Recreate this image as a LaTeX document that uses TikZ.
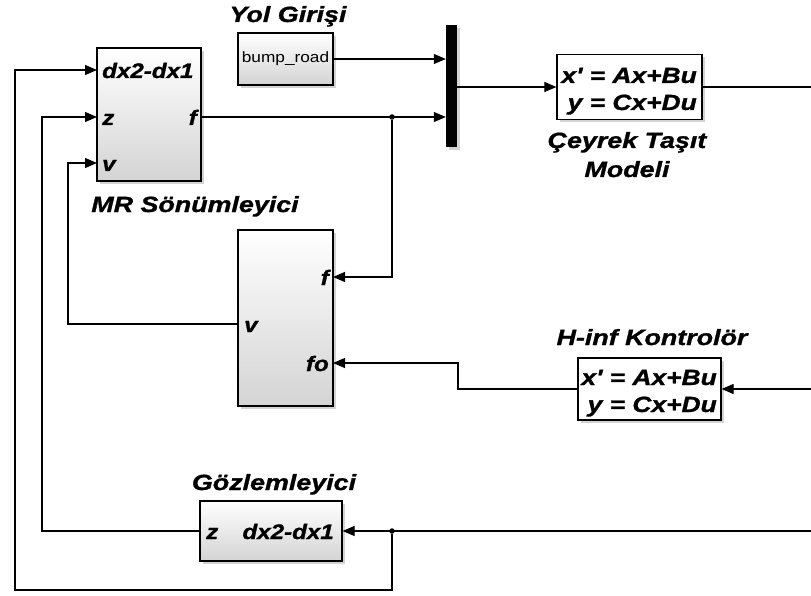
\documentclass[tikz,border=0pt]{standalone}
\usepackage{fontspec}
\setmainfont{Liberation Sans}
\newfontfamily\blkfont{Liberation Sans}[FakeStretch=1.15, BoldItalicFeatures={FakeBold=1.2}]
\newfontfamily\ssfont{Liberation Sans}[FakeStretch=1.2, BoldItalicFeatures={FakeBold=1.2}]
\newfontfamily\capfont{Liberation Sans}[FakeStretch=1.22, BoldItalicFeatures={FakeBold=1.2}]
\usepackage{tikz}
\usetikzlibrary{positioning,arrows.meta,shadows}

\begin{document}
\begin{tikzpicture}[x=1pt, y=-1pt,
	blk/.style={draw, line width=1.2pt, top color=white, bottom color=black!17, inner sep=0,
		drop shadow={shadow xshift=3pt, shadow yshift=-3pt, opacity=.35}},
	ss/.style={draw, line width=1.2pt, fill=white, inner sep=0,
		drop shadow={shadow xshift=3pt, shadow yshift=-3pt, opacity=.35}},
	eq/.style={inner sep=0, align=right, font=\ssfont\bfseries\itshape\fontsize{22}{27}\selectfont},
	bar/.style={fill=black, inner sep=0, minimum width=11pt,
		drop shadow={shadow xshift=3pt, shadow yshift=-3pt, opacity=.35}},
	port/.style={inner sep=0, font=\blkfont\bfseries\itshape\fontsize{21}{25}\selectfont},
	caption/.style={inner sep=0, align=center, font=\capfont\bfseries\itshape\fontsize{22}{29}\selectfont},
	sig/.style={line width=1.1pt, -{Triangle[length=12pt, width=10pt]}},
	wire/.style={line width=1.1pt},
	dot/.style={circle, fill, inner sep=0, minimum size=5.5pt}]

	\useasboundingbox (0,0) rectangle (811,596);

	\node[blk, minimum width=104pt, minimum height=133pt] (mr) at (149,114.5) {};
	\node[blk, minimum width=95pt, minimum height=52pt] (yol) at (285.5,59) {};
	\node[bar, minimum height=122pt] (mux) at (451.5,86) {};
	\node[ss, minimum width=145pt, minimum height=65pt] (plant) at (629.5,87) {};
	\node[ss, minimum width=143pt, minimum height=62pt] (hinf) at (649.5,389) {};
	\node[blk, minimum width=95pt, minimum height=176pt] (ctl) at (285.5,318) {};
	\node[blk, minimum width=142pt, minimum height=60pt] (obs) at (271,531) {};

	\node[inner sep=0, font=\blkfont\fontsize{15}{18}\selectfont] (road) at (yol) {bump\_road};
	\node[eq, anchor=base east] (plant-eq) at (697,110) {x' = Ax+Bu\\y = Cx+Du};
	\node[eq, anchor=base east] (hinf-eq) at (717,412) {x' = Ax+Bu\\y = Cx+Du};

	\node[caption, anchor=base] (yolcap) at (288,22) {Yol Girişi};
	\node[caption, anchor=base] (mrcap) at (195,212) {MR Sönümleyici};
	\node[caption, anchor=base] (plantcap) at (627,177) {Çeyrek Taşıt\\Modeli};
	\node[caption, anchor=base] (hinfcap) at (652,345) {H-inf Kontrolör};
	\node[caption, anchor=base] (obscap) at (274,490) {Gözlemleyici};

	\coordinate (mr-dx) at (97,70);
	\coordinate (mr-z) at (97,117);
	\coordinate (mr-v) at (97,163);
	\coordinate (mr-f) at (201,117);
	\coordinate (ctl-f) at (333,277);
	\coordinate (ctl-v) at (238,324);
	\coordinate (ctl-fo) at (333,363);
	\coordinate (plant-out) at (811,87);
	\coordinate (hinf-in) at (811,389);
	\coordinate (obs-in) at (811,531);

	\node[port, anchor=base west] (mr-l1) at (102,78) {dx2-dx1};
	\node[port, anchor=base west] (mr-l2) at (102,125) {z};
	\node[port, anchor=base west] (mr-l3) at (102,171) {v};
	\node[port, anchor=base east] (mr-l4) at (197,125) {f};
	\node[port, anchor=base east] (ctl-l1) at (329,285) {f};
	\node[port, anchor=base west] (ctl-l2) at (244,332) {v};
	\node[port, anchor=base east] (ctl-l3) at (329,371) {fo};
	\node[port, anchor=base west] (obs-l1) at (206,539) {z};
	\node[port, anchor=base east] (obs-l2) at (334,539) {dx2-dx1};

	\node[dot] (j1) at (392,117) {};
	\node[dot] (j2) at (392,531) {};

	\draw[sig] (yol.east) -- (yol.east -| mux.west);
	\draw[sig] (mr-f) -- (mr-f -| mux.west);
	\draw[sig] (mux.east |- plant.west) -- (plant.west);
	\draw[wire] (plant.east) -- (plant-out);
	\draw[sig] (j1) |- (ctl-f);
	\draw[sig] (ctl-v) -| (68,163) -- (mr-v);
	\draw[sig] (hinf.west) -| (458,363) -- (ctl-fo);
	\draw[sig] (hinf-in) -- (hinf.east);
	\draw[sig] (obs-in) -- (obs.east);
	\draw[sig] (obs.west) -| (42,117) -- (mr-z);
	\draw[sig] (j2) -- (392,590) -| (15,70) -- (mr-dx);

\end{tikzpicture}
\end{document}
